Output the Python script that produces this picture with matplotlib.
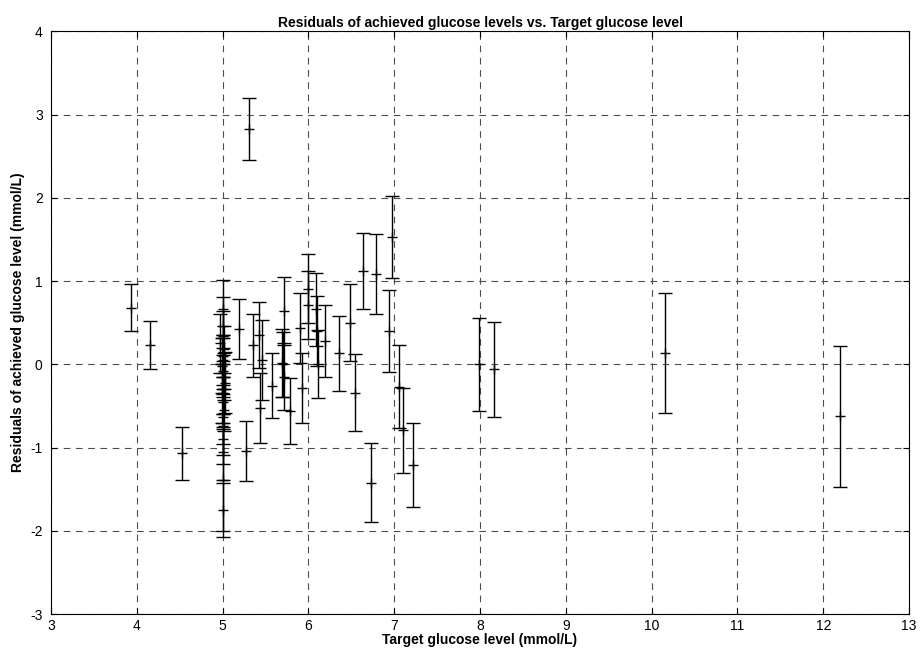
import numpy as np
import matplotlib
matplotlib.use('Agg')
import matplotlib.pyplot as plt

plt.rcParams['font.family'] = ['Liberation Sans', 'DejaVu Sans']
plt.rcParams['axes.unicode_minus'] = False

# target glucose level (x), residual (y), error half-width (e)
# 목표 5 mmol/L 부근 세로 묶음
x_five = [5.00, 4.97, 5.00, 5.00, 5.01, 5.00, 5.00, 4.99, 5.00, 5.02, 5.03,
          5.00, 4.99, 5.00, 5.01, 5.00, 5.00, 5.00, 5.00, 5.00, 5.00]
y_five = [0.66, 0.25, 0.46, 0.34, 0.18, 0.10, 0.05, -0.02, -0.08, -0.15, -0.22,
          -0.30, -0.35, -0.45, -0.55, -0.63, -0.74, -0.90, -1.05, -1.39, -1.75]
e_five = [0.35, 0.36, 0.35, 0.30, 0.28, 0.25, 0.30, 0.33, 0.28, 0.28, 0.37,
          0.30, 0.35, 0.30, 0.25, 0.33, 0.35, 0.30, 0.34, 0.61, 0.33]

# 나머지 점들
x_rest = [3.93, 4.15, 4.53, 5.19, 5.27, 5.31, 5.35, 5.42, 5.44, 5.46, 5.57,
          5.72, 5.70, 5.69, 5.71, 5.79, 5.90, 5.93, 5.99, 6.00, 6.09, 6.10,
          6.11, 6.19, 6.36, 6.49, 6.54, 6.63, 6.73, 6.79, 6.94, 6.97, 7.06,
          7.10, 7.22, 7.99, 8.16, 10.15, 12.19]
y_rest = [0.68, 0.23, -1.07, 0.42, -1.04, 2.83, 0.23, 0.35, -0.52, 0.05, -0.26,
          0.64, 0.00, 0.02, -0.15, -0.56, 0.44, -0.29, 0.91, 0.71, 0.66, 0.40,
          0.00, 0.28, 0.13, 0.50, -0.34, 1.12, -1.42, 1.09, 0.40, 1.53, -0.27,
          -0.79, -1.21, 0.00, -0.06, 0.135, -0.625]
e_rest = [0.28, 0.29, 0.32, 0.36, 0.36, 0.37, 0.38, 0.40, 0.42, 0.48, 0.39,
          0.41, 0.39, 0.41, 0.40, 0.40, 0.42, 0.42, 0.41, 0.41, 0.44, 0.42,
          0.41, 0.43, 0.45, 0.46, 0.46, 0.46, 0.47, 0.48, 0.49, 0.49, 0.50,
          0.51, 0.51, 0.56, 0.57, 0.72, 0.85]

x = np.array(x_five + x_rest)
y = np.array(y_five + y_rest)
e = np.array(e_five + e_rest)

fig = plt.figure(figsize=(9.23, 6.66), dpi=100)
ax = fig.add_axes([0.0553, 0.078, 0.9296, 0.875])

ax.errorbar(x, y, yerr=e, fmt='+', color='black', ecolor='black',
            elinewidth=1.0, capsize=5, capthick=1.0, markersize=7, mew=1.0)

ax.set_xlim(3, 13)
ax.set_ylim(-3, 4)
ax.set_xticks(range(3, 14))
ax.set_yticks(range(-3, 5))

ax.grid(True, color='0.3', linestyle=(0, (6, 5)), linewidth=0.8)
ax.set_axisbelow(True)
ax.tick_params(direction='in', top=True, right=True, length=4, labelsize=10)
ax.tick_params(axis='y', pad=6)
for s in ax.spines.values():
    s.set_linewidth(0.8)

ax.set_title('Residuals of achieved glucose levels vs. Target glucose level',
             fontsize=10, fontweight='bold', pad=3)
ax.set_xlabel('Target glucose level (mmol/L)', fontsize=10, fontweight='bold',
              labelpad=0)
ax.set_ylabel('Residuals of achieved glucose level (mmol/L)', fontsize=10,
              fontweight='bold', labelpad=4)

fig.savefig('out.png', dpi=100)
